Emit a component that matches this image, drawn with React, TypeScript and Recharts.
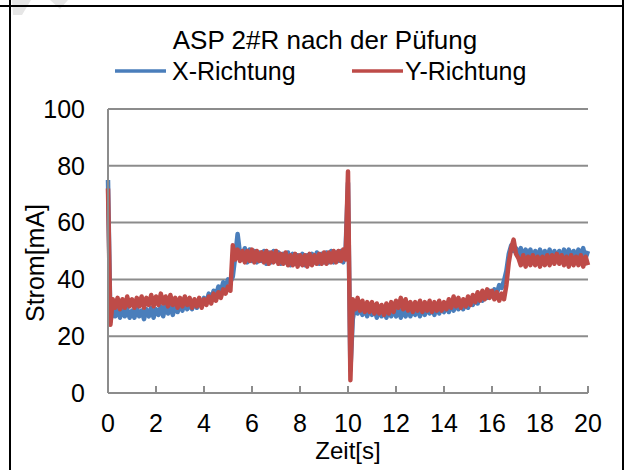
import React from 'react';
import { LineChart, Line, XAxis, YAxis, CartesianGrid, Legend, Label } from 'recharts';

const chartTitle = 'ASP 2#R nach der Püfung';
const seriesNames = ['X-Richtung', 'Y-Richtung'];
const xAxisTitle = 'Zeit[s]';
const yAxisTitle = 'Strom[mA]';
const xTicks = [0, 2, 4, 6, 8, 10, 12, 14, 16, 18, 20];
const yTicks = [0, 20, 40, 60, 80, 100];
const sampleStepS = 0.1;

// X-Richtung, sampled every 0.1 s from 0 to 20 s
const stromX = [
  75, 25, 30, 27, 29.5, 26.5, 30, 27, 29.5, 26.5, 29,
  26.5, 30, 27, 29, 26, 29.5, 27, 30, 26.5, 29.5,
  27.5, 30.5, 27, 31, 28, 30.5, 27.5, 31, 28.5, 31.5,
  29, 32, 29.5, 31.5, 29.5, 32.5, 30, 33, 30.5, 33.5,
  32, 35, 33, 36, 34.5, 37.5, 36, 39, 37.5, 40,
  39, 41, 48, 56, 49, 47, 51, 46, 50.5, 46.5,
  50, 46, 49.5, 46.5, 50, 45.5, 49.5, 46, 50, 46.5,
  49.5, 45.5, 49, 46, 49.5, 45, 49, 45.5, 48.5, 45.5,
  49, 45, 48.5, 45.5, 49, 46, 49.5, 45.5, 49, 46,
  49.5, 46, 50, 46, 49.5, 46.5, 50, 46, 50.5, 74,
  8, 26, 31, 28, 30.5, 27.5, 30, 27, 30.5, 27.5,
  30, 26.5, 30, 27, 29.5, 26.5, 30, 27, 29.5, 27,
  30, 26.5, 29.5, 27, 30, 27, 29.5, 27.5, 30, 27,
  30.5, 27.5, 30, 28, 30.5, 27.5, 31, 28, 30.5, 28.5,
  31, 28.5, 31.5, 29, 31, 29.5, 32, 29.5, 32.5, 30,
  33, 31, 33.5, 31.5, 34.5, 32.5, 35, 33.5, 36, 34.5,
  36.5, 35, 38, 37, 39.5, 43, 49, 52, 50, 51,
  48, 51, 47.5, 50.5, 48, 50.5, 47, 50, 47.5, 50.5,
  47, 50, 47.5, 50.5, 47, 50, 47.5, 50, 47, 50.5,
  47.5, 50.5, 47.5, 50, 47.5, 50.5, 48, 51, 47.5, 50,
];

// Y-Richtung, sampled every 0.1 s from 0 to 20 s
const stromY = [
  72, 24, 33, 30, 33.5, 29.5, 33, 30, 34, 30.5, 33,
  30, 33.5, 30.5, 34, 30, 33.5, 31, 34.5, 30.5, 34,
  31, 35, 31.5, 34, 30.5, 34.5, 31, 33.5, 30, 33.5,
  30.5, 34, 31, 33.5, 30, 33, 30.5, 33.5, 30, 33,
  31, 34, 31.5, 35, 32.5, 35.5, 33.5, 36.5, 35, 37.5,
  36, 52, 47, 50.5, 46.5, 50, 46, 50, 46.5, 50.5,
  46, 50, 46.5, 49.5, 46, 50, 45.5, 49.5, 46, 50,
  45.5, 49, 45.5, 49.5, 45, 48.5, 45, 49, 44.5, 48.5,
  45, 48.5, 44.5, 49, 45, 48.5, 45.5, 49, 45.5, 49.5,
  45.5, 49.5, 46, 50, 46, 50, 46.5, 50.5, 47, 78,
  4.5, 33, 29.5, 33.5, 29, 32.5, 28.5, 32, 28.5, 32,
  28, 31.5, 28, 31, 27.5, 31.5, 28, 32, 28.5, 32.5,
  30, 33.5, 29.5, 33, 29, 32, 28.5, 32, 29, 32.5,
  28.5, 32, 29, 32.5, 28.5, 32, 29, 32.5, 29, 32,
  29.5, 33, 30, 34, 30.5, 33.5, 30, 33, 30.5, 34,
  31, 34.5, 32, 35.5, 32.5, 36, 33, 36.5, 33.5, 36,
  33, 35.5, 32.5, 35, 33, 38, 46, 51, 54, 49,
  47.5, 45, 48.5, 44.5, 48, 45, 48.5, 45, 48, 44.5,
  48, 45, 48.5, 45, 48.5, 45.5, 49, 45.5, 48.5, 45,
  48, 44.5, 48.5, 45, 48, 45, 48.5, 44.5, 48, 45,
];

const data = stromX.map((v, i) => ({
  t: Math.round(i * sampleStepS * 10) / 10,
  x: v,
  y: stromY[i],
}));

const FONT = '"Liberation Sans", Arial, sans-serif';
const BLUE = '#4A7EBB';
const RED = '#BE4B48';
const GRID = '#8C8C8C';

const LegendContent = () => (
  <div style={{ position: 'relative', width: 627, height: 0 }}>
    <svg
      width={627}
      height={100}
      style={{ position: 'absolute', left: 0, top: 0, overflow: 'visible' }}
    >
      <line x1={115} x2={166} y1={71} y2={71} stroke={BLUE} strokeWidth={3.5} />
      <text x={172} y={79.5} fontSize={25} fontFamily={FONT} fill="#000">
        {seriesNames[0]}
      </text>
      <line x1={352} x2={403} y1={71} y2={71} stroke={RED} strokeWidth={3.5} />
      <text x={405} y={79.5} fontSize={25} fontFamily={FONT} fill="#000">
        {seriesNames[1]}
      </text>
    </svg>
  </div>
);

export default function App() {
  return (
    <div
      style={{
        position: 'fixed',
        left: 0,
        top: 0,
        width: 627,
        height: 470,
        background: '#fff',
        overflow: 'hidden',
        fontFamily: FONT,
      }}
    >
      <svg width={627} height={470} style={{ position: 'absolute', left: 0, top: 0 }}>
        <polygon points="12,0 31,0 22,15 13,15" fill="#e6e6e6" />
        <polygon points="50,0 68,0 60,9" fill="#e6e6e6" />
        <text
          x={325}
          y={48.5}
          textAnchor="middle"
          fontSize={26}
          fontFamily={FONT}
          fill="#000"
        >
          {chartTitle}
        </text>
      </svg>
      <div style={{ position: 'absolute', left: 0, top: 0 }}>
        <LineChart
          width={627}
          height={470}
          data={data}
          margin={{ top: 109, right: 39, left: 0, bottom: 0 }}
        >
          <CartesianGrid horizontal vertical={false} stroke={GRID} strokeWidth={2} />
          <XAxis
            dataKey="t"
            type="number"
            domain={[0, 20]}
            ticks={xTicks}
            interval={0}
            height={77}
            axisLine={{ stroke: GRID, strokeWidth: 2 }}
            tickLine={{ stroke: GRID, strokeWidth: 2 }}
            tickSize={-7}
            tickMargin={28}
            tick={{ fontSize: 25, fill: '#000', fontFamily: FONT }}
          >
            <Label
              content={() => (
                <text
                  x={348}
                  y={459}
                  textAnchor="middle"
                  fontSize={24}
                  fontFamily={FONT}
                  fill="#000"
                >
                  {xAxisTitle}
                </text>
              )}
            />
          </XAxis>
          <YAxis
            type="number"
            domain={[0, 100]}
            ticks={yTicks}
            interval={0}
            width={108}
            axisLine={{ stroke: GRID, strokeWidth: 2 }}
            tickLine={false}
            tickSize={0}
            tickMargin={23}
            tick={{ fontSize: 25, fill: '#000', fontFamily: FONT }}
          >
            <Label
              content={() => (
                <text
                  x={44}
                  y={263}
                  textAnchor="middle"
                  transform="rotate(-90, 44, 263)"
                  fontSize={25}
                  fontFamily={FONT}
                  fill="#000"
                >
                  {yAxisTitle}
                </text>
              )}
            />
          </YAxis>
          <Legend
            content={<LegendContent />}
            wrapperStyle={{ position: 'absolute', left: 0, top: 0, width: 627, height: 0 }}
          />
          <Line
            type="linear"
            dataKey="x"
            name={seriesNames[0]}
            stroke={BLUE}
            strokeWidth={4.5}
            strokeLinejoin="round"
            dot={false}
            activeDot={false}
            isAnimationActive={false}
          />
          <Line
            type="linear"
            dataKey="y"
            name={seriesNames[1]}
            stroke={RED}
            strokeWidth={4.5}
            strokeLinejoin="round"
            dot={false}
            activeDot={false}
            isAnimationActive={false}
          />
        </LineChart>
      </div>
      <div style={{ position: 'absolute', left: 0, top: 5, width: 624, height: 2, background: '#000' }} />
      <div style={{ position: 'absolute', left: 8.5, top: 0, width: 2, height: 470, background: '#000' }} />
      <div style={{ position: 'absolute', left: 622, top: 0, width: 2, height: 470, background: '#000' }} />
    </div>
  );
}
